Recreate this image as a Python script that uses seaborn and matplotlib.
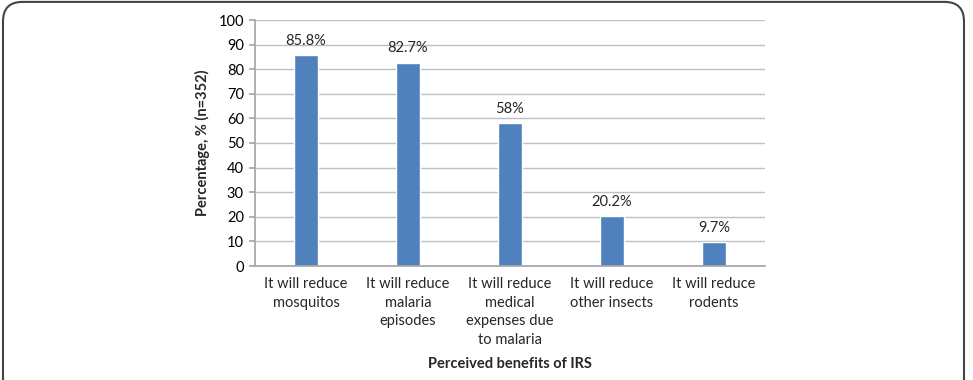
import matplotlib
matplotlib.use("Agg")
import matplotlib.pyplot as plt
from matplotlib.patches import FancyBboxPatch
import seaborn as sns
import pandas as pd

categories = ["It will reduce\nmosquitos", "It will reduce\nmalaria\nepisodes",
              "It will reduce\nmedical\nexpenses due\nto malaria",
              "It will reduce\nother insects", "It will reduce\nrodents"]
values = [85.8, 82.7, 58, 20.2, 9.7]
value_labels = ["85.8%", "82.7%", "58%", "20.2%", "9.7%"]
yticks = [0, 10, 20, 30, 40, 50, 60, 70, 80, 90, 100]

sns.set_theme(style="white")
plt.rcParams['font.family'] = ['Lato', 'DejaVu Sans']

df = pd.DataFrame({"cat": categories, "val": values})

fig = plt.figure(figsize=(9.73, 3.80), dpi=100)
ax = fig.add_axes([255/973, 1-266/380, 510/973, 246/380])
sns.barplot(data=df, x="cat", y="val", color="#4F81BD", width=0.245, saturation=1, ax=ax)

ax.set_ylim(0, 100)
ax.set_yticks(yticks)
ax.set_yticklabels([str(t) for t in yticks], fontsize=10.5, color="#000000")
ax.yaxis.grid(True, color="#BFBFBF", linewidth=1)
ax.set_axisbelow(True)
for s in ["top", "right"]:
    ax.spines[s].set_visible(False)
ax.spines["left"].set_color("#A6A6A6")
ax.spines["bottom"].set_color("#A6A6A6")
ax.tick_params(axis="y", left=True, length=4, color="#A6A6A6", pad=4)
ax.tick_params(axis="x", bottom=False, pad=2)
ax.set_xticks(range(len(categories)))
ax.set_xticklabels(categories, fontsize=10.5, linespacing=1.42)

for i, (v, lab) in enumerate(zip(values, value_labels)):
    ax.text(i, v + 3, lab, ha="center", va="bottom", fontsize=10.5)

ax.set_xlabel("Perceived benefits of IRS", fontsize=10.5, fontweight="bold", labelpad=7)
ax.set_ylabel("Percentage, % (n=352)", fontsize=10.5, fontweight="bold", labelpad=6)

frame = FancyBboxPatch((3/973, -0.05), 961/973, 1.045, boxstyle="round,pad=0,rounding_size=0.02",
                       transform=fig.transFigure, fill=False, edgecolor="#444444", linewidth=1.5,
                       mutation_aspect=973/380)
fig.patches.append(frame)

fig.savefig("out.png", dpi=100)
